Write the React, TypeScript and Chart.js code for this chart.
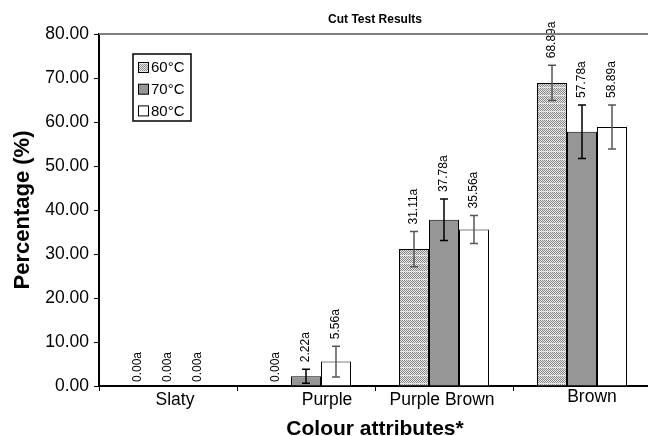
import React, { useEffect, useRef } from 'react';
import { Chart, registerables } from 'chart.js';

Chart.register(...registerables);

const FONT = "'Liberation Sans', Arial, Helvetica, sans-serif";

const categories = ['Slaty', 'Purple', 'Purple Brown', 'Brown'];
const seriesNames = ['60°C', '70°C', '80°C'];
const values60 = [0, 0, 31.11, 68.89];
const values70 = [0, 2.22, 37.78, 57.78];
const values80 = [0, 5.56, 35.56, 58.89];
const err60 = [0, 0, 4.0, 4.0];
const err70 = [0, 1.6, 4.7, 6.1];
const err80 = [0, 3.5, 3.2, 5.0];
const labelSuffix = 'a';
const yMin = 0;
const yMax = 80;
const yStep = 10;

// style-only nudges for category labels (px)
const catLabelNudgeX = [7, 21, -2, 10];
const catLabelNudgeY = [0, 0, 0, -3];

const errors = [err60, err70, err80];
const errColors = ['#555555', '#000000', '#555555'];

function makePattern(): CanvasPattern | string {
  const c = document.createElement('canvas');
  c.width = 2;
  c.height = 8;
  const p = c.getContext('2d');
  if (!p) return '#bbbbbb';
  for (let y = 0; y < 8; y++) {
    for (let x = 0; x < 2; x++) {
      const dark = (x + y) % 2 === 0;
      let col = dark ? '#8c8c8c' : '#e4e4e4';
      if (y === 7) col = dark ? '#d4d4d4' : '#f4f4f4';
      p.fillStyle = col;
      p.fillRect(x, y, 1, 1);
    }
  }
  const pat = p.createPattern(c, 'repeat');
  return pat || '#bbbbbb';
}

export default function App() {
  const ref = useRef<HTMLCanvasElement | null>(null);

  useEffect(() => {
    const canvas = ref.current;
    if (!canvas) return;
    const pattern = makePattern();
    const fills = [pattern, '#969696', '#ffffff'];

    const decor = {
      id: 'decor',
      afterDatasetsDraw(chart: any) {
        const ctx = chart.ctx as CanvasRenderingContext2D;
        const y = chart.scales.y;
        chart.data.datasets.forEach((ds: any, di: number) => {
          const meta = chart.getDatasetMeta(di);
          const errs = errors[di];
          meta.data.forEach((bar: any, i: number) => {
            const v = ds.data[i] as number;
            const e = errs[i];
            if (e > 0) {
              const top = y.getPixelForValue(v + e);
              const bot = y.getPixelForValue(v - e);
              ctx.save();
              ctx.strokeStyle = errColors[di];
              ctx.lineWidth = 1.5;
              ctx.beginPath();
              ctx.moveTo(bar.x, top);
              ctx.lineTo(bar.x, bot);
              ctx.moveTo(bar.x - 4, top);
              ctx.lineTo(bar.x + 4, top);
              ctx.moveTo(bar.x - 4, bot);
              ctx.lineTo(bar.x + 4, bot);
              ctx.stroke();
              ctx.restore();
            }
            const yl = e > 0 ? y.getPixelForValue(v + e) - 7 : y.getPixelForValue(v) - 4;
            ctx.save();
            ctx.translate(bar.x, yl);
            ctx.rotate(-Math.PI / 2);
            ctx.font = `12px ${FONT}`;
            ctx.textAlign = 'left';
            ctx.textBaseline = 'middle';
            ctx.fillStyle = '#000';
            ctx.fillText(v.toFixed(2) + labelSuffix, 0, 0);
            ctx.restore();
          });
        });
      },
      afterDraw(chart: any) {
        const ctx = chart.ctx as CanvasRenderingContext2D;
        const a = chart.chartArea;
        const x = chart.scales.x;
        // plot-area top border
        ctx.save();
        ctx.strokeStyle = '#808080';
        ctx.lineWidth = 2;
        ctx.beginPath();
        ctx.moveTo(a.left, a.top);
        ctx.lineTo(a.right, a.top);
        ctx.stroke();
        ctx.restore();

        // category labels
        ctx.save();
        ctx.font = `17.5px ${FONT}`;
        ctx.fillStyle = '#000';
        ctx.textAlign = 'center';
        ctx.textBaseline = 'middle';
        categories.forEach((c, i) => {
          const px = x.getPixelForValue(i) + catLabelNudgeX[i];
          ctx.fillText(c, px, a.bottom + 14 + catLabelNudgeY[i]);
        });
        ctx.restore();

        // legend
        const lx = a.left + 34;
        const ly = a.top + 20;
        const lw = 58;
        const lh = 67;
        ctx.save();
        ctx.fillStyle = '#ffffff';
        ctx.fillRect(lx, ly, lw, lh);
        ctx.strokeStyle = '#000';
        ctx.lineWidth = 1.5;
        ctx.strokeRect(lx, ly, lw, lh);
        ctx.font = `15px ${FONT}`;
        ctx.textAlign = 'left';
        ctx.textBaseline = 'middle';
        seriesNames.forEach((n, i) => {
          const cy = ly + 13.5 + i * 21.7;
          ctx.fillStyle = fills[i] as any;
          ctx.fillRect(lx + 5.5, cy - 5, 10, 10);
          ctx.strokeStyle = '#000';
          ctx.lineWidth = 1;
          ctx.strokeRect(lx + 5.5, cy - 5, 10, 10);
          ctx.fillStyle = '#000';
          ctx.fillText(n, lx + 18, cy + 0.5);
        });
        ctx.restore();
      },
    };

    const chart = new Chart(canvas, {
      type: 'bar',
      data: {
        labels: categories,
        datasets: [values60, values70, values80].map((d, i) => ({
          label: seriesNames[i],
          data: d,
          backgroundColor: fills[i] as any,
          borderColor: '#000000',
          borderWidth: 1,
          borderSkipped: 'bottom',
          categoryPercentage: 0.652,
          barPercentage: 1.0,
        })),
      },
      options: {
        responsive: false,
        animation: false,
        devicePixelRatio: 1,
        layout: { padding: { left: 0, right: 9, top: 0, bottom: 0 } },
        plugins: {
          legend: { display: false },
          tooltip: { enabled: false },
          title: {
            display: true,
            text: 'Cut Test Results',
            fullSize: false,
            color: '#000',
            font: { family: FONT, size: 12, weight: 'bold', lineHeight: 1.2 },
            padding: { top: 12, bottom: 7.6 },
          },
        },
        scales: {
          x: {
            type: 'category',
            offset: true,
            afterFit: (s: any) => {
              s.height = 50;
            },
            grid: {
              offset: true,
              drawOnChartArea: false,
              drawTicks: true,
              tickLength: 5,
              color: '#000',
              lineWidth: 1,
            },
            border: { display: true, color: '#000', width: 2 },
            ticks: { display: false },
            title: {
              display: true,
              text: 'Colour attributes*',
              color: '#000',
              font: { family: FONT, size: 21, weight: 'bold', lineHeight: 0.65 },
              padding: { top: 0, bottom: 0 },
            },
          },
          y: {
            min: yMin,
            max: yMax,
            afterFit: (s: any) => {
              s.width = 99;
            },
            grid: {
              drawOnChartArea: false,
              drawTicks: true,
              tickLength: 5,
              color: '#000',
              lineWidth: 1,
            },
            border: { display: true, color: '#000', width: 2 },
            ticks: {
              stepSize: yStep,
              padding: 5,
              color: '#000',
              font: { family: FONT, size: 17.5 },
              callback: (v: any) => Number(v).toFixed(2),
            },
            title: {
              display: true,
              text: 'Percentage (%)',
              color: '#000',
              font: { family: FONT, size: 22, weight: 'bold', lineHeight: 1.2 },
              padding: { top: 10, bottom: 0 },
            },
          },
        },
      },
      plugins: [decor],
    });

    return () => {
      chart.destroy();
    };
  }, []);

  return (
    <div
      style={{
        position: 'fixed',
        left: 0,
        top: 0,
        width: 648,
        height: 436,
        overflow: 'hidden',
        background: '#fff',
      }}
    >
      <canvas ref={ref} width={660} height={436} style={{ display: 'block', width: 660, height: 436 }} />
    </div>
  );
}
